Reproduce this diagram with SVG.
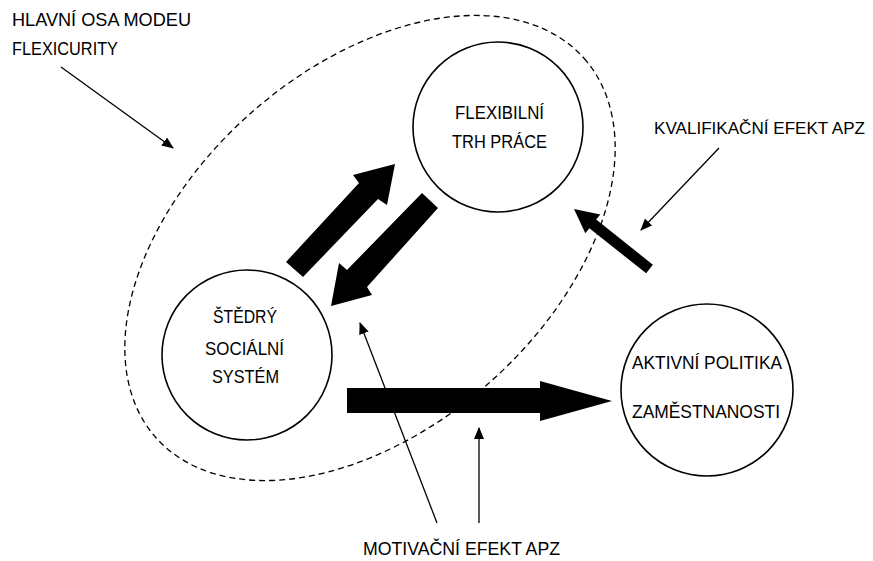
<svg xmlns="http://www.w3.org/2000/svg" width="873" height="561" viewBox="0 0 873 561">
  <defs>
    <marker id="ah" viewBox="0 0 12 10" refX="11" refY="5" markerWidth="12" markerHeight="10" markerUnits="userSpaceOnUse" orient="auto">
      <path d="M0,0 L12,5 L0,10 Z" fill="#000"/>
    </marker>
    <style>
      .t { font-family: "Liberation Sans", Arial, sans-serif; font-size: 18.5px; fill: #000; }
      .t17 { font-size: 17px; }
      .node { fill: #fff; stroke: #000; stroke-width: 1.6; }
      .thin { stroke: #000; stroke-width: 1.3; fill: none; marker-end: url(#ah); }
      .block { fill: #000; stroke: none; }
      .dash { fill: none; stroke: #000; stroke-width: 1.3; stroke-dasharray: 6 4; }
    </style>
  </defs>
  <rect width="873" height="561" fill="#fff"/>

  <g id="axis-ellipse">
    <ellipse class="dash" cx="370" cy="248" rx="286" ry="180" transform="rotate(-41.5 370 248)"/>
  </g>

  <g id="flexibilni">
    <circle class="node" cx="498" cy="127" r="85"/>
    <text class="t" x="455" y="119" textLength="89" lengthAdjust="spacingAndGlyphs">FLEXIBILNÍ</text>
    <text class="t" x="452" y="148" textLength="95" lengthAdjust="spacingAndGlyphs">TRH PRÁCE</text>
  </g>

  <g id="stedry">
    <circle class="node" cx="247" cy="355" r="85"/>
    <text class="t" x="213" y="323" textLength="64" lengthAdjust="spacingAndGlyphs">ŠTĚDRÝ</text>
    <text class="t" x="205" y="355" textLength="79" lengthAdjust="spacingAndGlyphs">SOCIÁLNÍ</text>
    <text class="t" x="212" y="383" textLength="67" lengthAdjust="spacingAndGlyphs">SYSTÉM</text>
  </g>

  <g id="aktivni">
    <circle class="node" cx="707" cy="390" r="86"/>
    <text class="t" x="632" y="369" textLength="150" lengthAdjust="spacingAndGlyphs">AKTIVNÍ POLITIKA</text>
    <text class="t" x="632" y="418" textLength="148" lengthAdjust="spacingAndGlyphs">ZAMĚSTNANOSTI</text>
  </g>

  <g id="labels">
    <text class="t" x="12" y="26" textLength="179" lengthAdjust="spacingAndGlyphs">HLAVNÍ OSA MODEU</text>
    <text class="t" x="12" y="55" textLength="106" lengthAdjust="spacingAndGlyphs">FLEXICURITY</text>
    <text class="t t17" x="654" y="134" textLength="211" lengthAdjust="spacingAndGlyphs">KVALIFIKAČNÍ EFEKT APZ</text>
    <text class="t" x="363" y="555" textLength="197" lengthAdjust="spacingAndGlyphs">MOTIVAČNÍ EFEKT APZ</text>
  </g>

  <g id="connectors">
    <polygon class="block" points="286,262 359,183 353,175 395,164 387,205 378,199 303,277"/>
    <polygon class="block" points="422,193 347,270 339,263 331,306 372,295 367,287 438,208"/>
    <polygon class="block" points="347,388 540,388 540,381 612,401 540,421 540,413 347,413"/>
    <polygon class="block" points="652.9,264.7 596.2,219.6 600.3,214.5 574,209 585.3,233.3 589.4,228.2 646.1,273.3"/>
    <line class="thin" x1="61" y1="67" x2="173" y2="148"/>
    <line class="thin" x1="719" y1="148" x2="641" y2="230"/>
    <line class="thin" x1="437" y1="523" x2="360" y2="323"/>
    <line class="thin" x1="479" y1="523" x2="479" y2="428"/>
  </g>
</svg>
